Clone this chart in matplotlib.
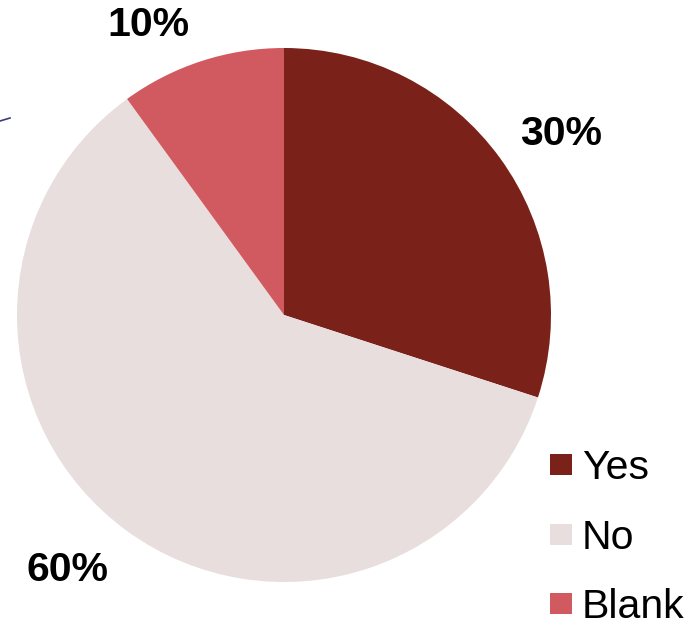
import matplotlib
matplotlib.use("Agg")
import matplotlib.pyplot as plt
from matplotlib.patches import Rectangle

categories = ["Yes", "No", "Blank"]
values = [30, 60, 10]
labels = ["30%", "60%", "10%"]
colors = ["#7A2119", "#E8DEDE", "#D05A5F"]

W, H = 694, 624
fig = plt.figure(figsize=(W / 100, H / 100), dpi=100)
ax = fig.add_axes([0, 0, 1, 1])

cx, cy, r = 284, H - 315, 267
ax.pie(values, colors=colors, startangle=90, counterclock=False,
       center=(cx, cy), radius=r, frame=False,
       wedgeprops=dict(linewidth=0))
ax.set_xlim(0, W)
ax.set_ylim(0, H)
ax.set_aspect("equal")
ax.axis("off")

font = "Liberation Sans"
label_pos = [(561, H - 134), (68, H - 570), (148, H - 25)]
for (x, y), t in zip(label_pos, labels):
    ax.text(x, y, t, ha="center", va="center", fontsize=29.5,
            fontweight="bold", family=font, color="black")

# legend
rows_y = [465, 535, 604]
for cat, col, ry in zip(categories, colors, rows_y):
    ax.add_patch(Rectangle((550, H - ry - 10), 22, 21, facecolor=col,
                           edgecolor="none"))
    ax.text(582, H - ry, cat, ha="left", va="baseline", fontsize=29.5,
            family=font, color="black",
            transform=ax.transData + matplotlib.transforms.ScaledTranslation(0, -14 / 100, fig.dpi_scale_trans))

# stray decorative line at top-left
ax.plot([0, 10], [H - 121, H - 118], color="#3B3B7A", linewidth=1.2)

fig.savefig("out.png", dpi=100)
